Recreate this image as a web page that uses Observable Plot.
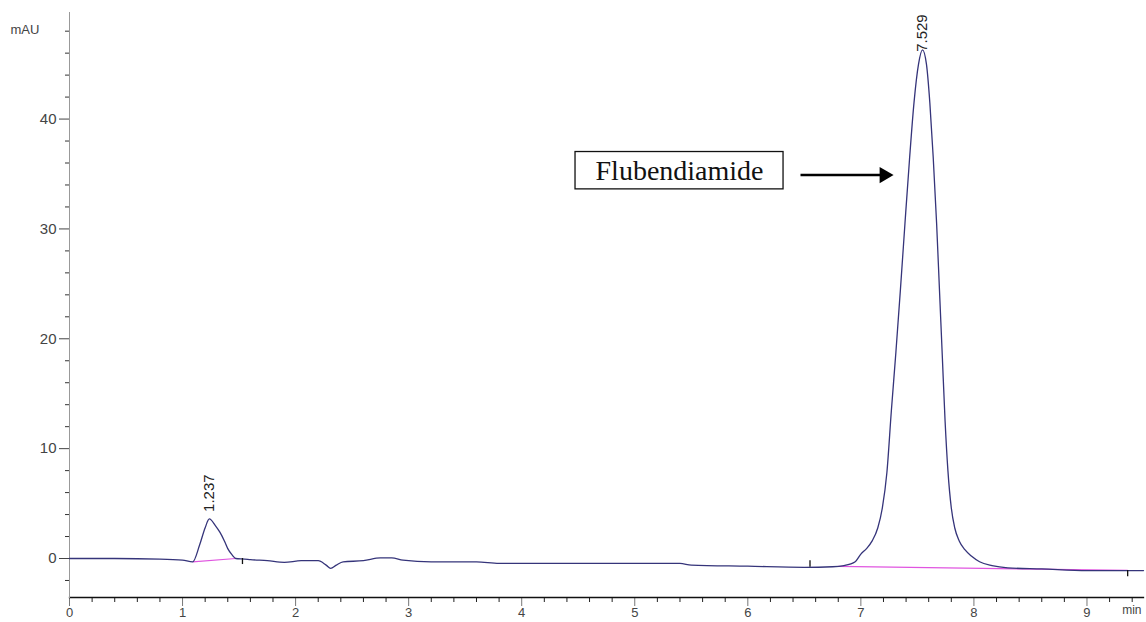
<!DOCTYPE html>
<html>
<head>
<meta charset="utf-8">
<script src="https://cdn.jsdelivr.net/npm/d3@7"></script>
<script src="https://cdn.jsdelivr.net/npm/@observablehq/plot@0.6"></script>
<style>
  html, body { margin: 0; padding: 0; background: #fff; }
  #chart svg { display: block; }
</style>
</head>
<body>
<div id="chart"></div>
<script>
// Chromatogram trace (retention time in min, absorbance in mAU)
const times = [0, 0.4, 0.8, 1.0, 1.09, 1.15, 1.2, 1.237, 1.29, 1.33, 1.37, 1.4, 1.44, 1.47, 1.55, 1.6, 1.75, 1.9, 2.05, 2.2, 2.27, 2.31, 2.36, 2.42, 2.6, 2.75, 2.85, 2.95, 3.2, 3.6, 3.8, 4.5, 5.4, 5.5, 6.0, 6.5, 6.75, 6.85, 6.95, 7.0, 7.05, 7.1, 7.15, 7.19, 7.23, 7.27, 7.31, 7.35, 7.39, 7.43, 7.47, 7.51, 7.545, 7.58, 7.61, 7.64, 7.67, 7.695, 7.72, 7.745, 7.77, 7.8, 7.83, 7.87, 7.92, 7.98, 8.05, 8.16, 8.3, 8.6, 9.0, 9.5];
const absorbance = [0, 0, -0.05, -0.15, -0.3, 1.2, 2.8, 3.6, 3.0, 2.4, 1.6, 0.9, 0.3, 0.0, -0.05, -0.1, -0.2, -0.35, -0.2, -0.2, -0.6, -0.9, -0.6, -0.3, -0.2, 0.05, 0.05, -0.15, -0.3, -0.3, -0.45, -0.45, -0.45, -0.6, -0.7, -0.8, -0.75, -0.65, -0.3, 0.4, 0.9, 1.6, 2.8, 4.6, 7.8, 13.5, 18.8, 24.5, 30.5, 36.3, 41.5, 45.0, 46.3, 45.0, 41.5, 36.5, 30.5, 24.5, 18.5, 12.5, 8.0, 4.6, 2.8, 1.6, 0.8, 0.2, -0.3, -0.65, -0.85, -0.95, -1.1, -1.1];

// Peaks
const peakLabels = ["1.237", "7.529"];
const peakTimes = [1.237, 7.545];
const peakHeights = [3.6, 46.3];

// Integration baselines (magenta)
const baseStartT = [1.09, 6.8];
const baseStartA = [-0.3, -0.72];
const baseEndT = [1.47, 9.36];
const baseEndA = [0.0, -1.08];

// Event marks
const eventTimes = [1.53, 6.55, 9.36];
const eventFrom = [0.0, -0.8, -1.1];
const eventTo = [-0.55, -0.2, -1.65];

// Axis ticks
const xMajorTicks = [0, 1, 2, 3, 4, 5, 6, 7, 8, 9];
const xTickLabels = ["0", "1", "2", "3", "4", "5", "6", "7", "8", "9"];
const yMajorTicks = [0, 10, 20, 30, 40];
const yTickLabels = ["0", "10", "20", "30", "40"];

// Annotation
const annText = ["Flubendiamide"];
const annBoxX = [4.476, 6.316];
const annBoxY = [33.6, 37.0];
const annArrowX = [6.466, 7.2];
const annArrowY = [34.9];
const annHeadX = [7.207];

const trace = times.map((t, i) => ({t, a: absorbance[i]}));
const peaks = peakLabels.map((label, i) => ({label, t: peakTimes[i], a: peakHeights[i]}));
const baselines = baseStartT.map((t, i) => ({x1: t, y1: baseStartA[i], x2: baseEndT[i], y2: baseEndA[i]}));
const events = eventTimes.map((t, i) => ({t, y1: eventFrom[i], y2: eventTo[i]}));
const xMinor = d3.range(0, 9.5, 0.2).map(v => +v.toFixed(1)).filter(v => Math.abs(v - Math.round(v)) > 1e-6);
const yMinor = d3.range(-2, 50, 2).filter(v => v % 10 !== 0);

const font = "'Liberation Sans', Arial, sans-serif";

const chart = Plot.plot({
  width: 1146,
  height: 622,
  marginLeft: 69,
  marginRight: 3,
  marginTop: 12,
  marginBottom: 25,
  style: {fontFamily: font, background: "#fff"},
  x: {domain: [0, 9.5]},
  y: {domain: [-3.55, 49.7]},
  marks: [
    // axes
    Plot.axisX(xMinor, {tickSize: 5, tickFormat: () => "", stroke: "#222"}),
    Plot.axisX(xMajorTicks, {tickSize: 9, tickPadding: 1, stroke: "#777",
      tickFormat: (d) => xTickLabels[xMajorTicks.indexOf(d)], fontSize: 13, fill: "#444", label: null}),
    Plot.axisY(yMinor, {tickSize: 4, tickFormat: () => "", stroke: "#333"}),
    Plot.axisY(yMajorTicks, {tickSize: 10, tickPadding: 3, stroke: "#444",
      tickFormat: (d) => yTickLabels[yMajorTicks.indexOf(d)], fontSize: 15, fill: "#444", label: null}),
    Plot.frame({anchor: "bottom", stroke: "#111", strokeWidth: 1.3}),
    Plot.frame({anchor: "left", stroke: "#999"}),
    Plot.text(["mAU"], {frameAnchor: "top-left", dx: -59, dy: 12, textAnchor: "start", fontSize: 13, fill: "#444"}),
    Plot.text(["min"], {frameAnchor: "bottom-right", dx: -2, dy: 16, textAnchor: "end", fontSize: 12, fill: "#444"}),
    // integration baselines
    Plot.link(baselines, {x1: "x1", y1: "y1", x2: "x2", y2: "y2", stroke: "#e055e0", strokeWidth: 1.2}),
    // trace
    Plot.line(trace, {x: "t", y: "a", curve: "monotone-x", stroke: "#35347a", strokeWidth: 1.3}),
    // event marks
    Plot.ruleX(events, {x: "t", y1: "y1", y2: "y2", stroke: "#111", strokeWidth: 1.3}),
    // peak labels
    Plot.text(peaks.slice(0, 1), {x: "t", y: "a", text: "label", rotate: -90, textAnchor: "start", dy: -7, fontSize: 15, fill: "#222"}),
    Plot.text(peaks.slice(1), {x: "t", y: "a", text: "label", rotate: -90, textAnchor: "start", dy: 2, fontSize: 15, fill: "#222"}),
    // annotation box
    Plot.rect(annText, {x1: () => annBoxX[0], x2: () => annBoxX[1], y1: () => annBoxY[0], y2: () => annBoxY[1], fill: "#fff", stroke: "#111", strokeWidth: 1.3}),
    Plot.text(annText, {x: () => (annBoxX[0] + annBoxX[1]) / 2, y: () => (annBoxY[0] + annBoxY[1]) / 2, text: d => d, fontFamily: "'Liberation Serif', 'Times New Roman', serif", fontSize: 28, fill: "#111"}),
    Plot.link(annText, {x1: () => annArrowX[0], x2: () => annArrowX[1], y1: () => annArrowY[0], y2: () => annArrowY[0], stroke: "#000", strokeWidth: 2.5}),
    Plot.dot(annText, {x: () => annHeadX[0], y: () => annArrowY[0], symbol: "triangle", r: 6, rotate: 90, fill: "#000", stroke: "none"})
  ]
});
document.getElementById("chart").appendChild(chart);
</script>
</body>
</html>
